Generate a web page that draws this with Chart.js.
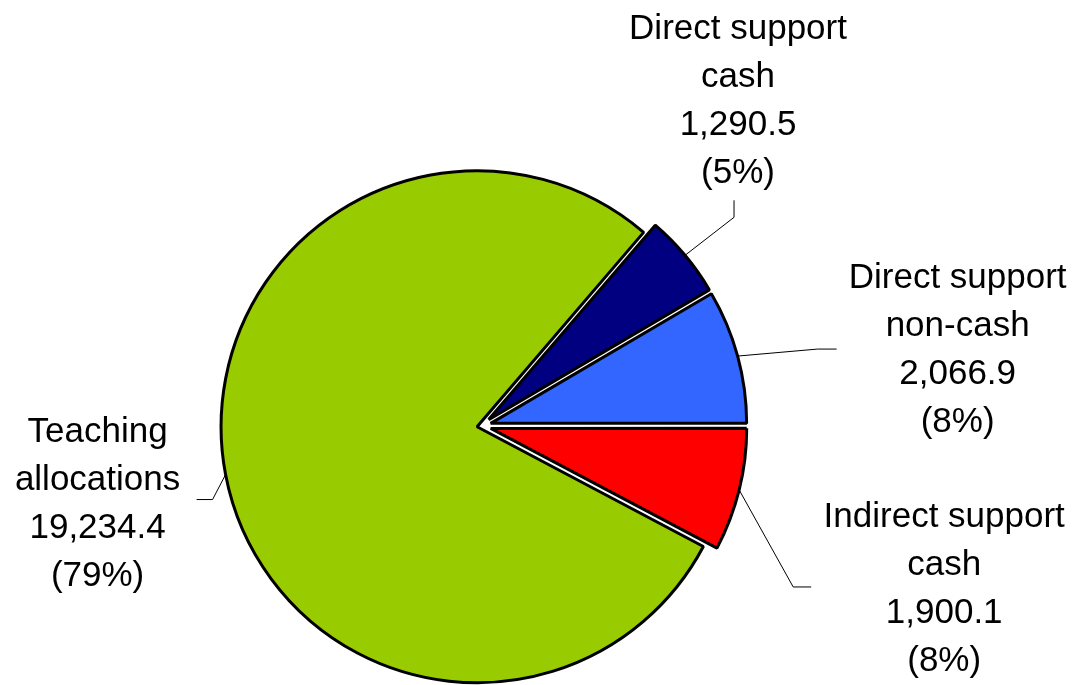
<!DOCTYPE html>
<html>
<head>
<meta charset="utf-8">
<script src="https://cdn.jsdelivr.net/npm/chart.js@4/dist/chart.umd.min.js"></script>
<style>
  body { margin: 0; background: #fff; }
  #wrap { width: 1079px; height: 685px; position: relative; }
</style>
</head>
<body>
<div id="wrap"><canvas id="chart"></canvas></div>
<script>
const categories = ['Direct support cash', 'Direct support non-cash', 'Indirect support cash', 'Teaching allocations'];
const labelLines = [['Direct support', 'cash'], ['Direct support', 'non-cash'], ['Indirect support', 'cash'], ['Teaching', 'allocations']];
const values = [1290.5, 2066.9, 1900.1, 19234.4];
const colors = ['#000080', '#3366FF', '#FF0000', '#99CC00'];
const explode = [10, 10, 10, 4];

// leader line elbow/end and text block centre, relative to the slice's outer mid point
const labelLayout = [
    { elbow: [49, -38], end: [49, -55], text: [53, -154] },
    { elbow: [80, -7], end: [99, -7], text: [220, -6] },
    { elbow: [54, 97], end: [72, 97], text: [205, 99] },
    { elbow: [-13, 25], end: [-29, 25], text: [-128, 30] },
];

function fmt(v) {
    return v.toLocaleString('en-US', { minimumFractionDigits: 1, maximumFractionDigits: 1 });
}

// draws every slice pushed out along its mid angle, without growing its radius
const explodedSlices = {
    id: 'explodedSlices',
    beforeDatasetDraw(chart, args) {
        const ctx = chart.ctx;
        args.meta.data.forEach((arc, i) => {
            const mid = (arc.startAngle + arc.endAngle) / 2;
            ctx.save();
            ctx.translate(Math.cos(mid) * explode[i], Math.sin(mid) * explode[i]);
            arc.draw(ctx, chart.chartArea);
            ctx.restore();
        });
        return false;
    }
};

const leaderLabels = {
    id: 'leaderLabels',
    afterDatasetsDraw(chart) {
        const ctx = chart.ctx;
        const meta = chart.getDatasetMeta(0);
        const total = values.reduce((a, b) => a + b, 0);
        meta.data.forEach((arc, i) => {
            const mid = (arc.startAngle + arc.endAngle) / 2;
            const ex = arc.x + Math.cos(mid) * (arc.outerRadius + explode[i]);
            const ey = arc.y + Math.sin(mid) * (arc.outerRadius + explode[i]);
            const L = labelLayout[i];
            ctx.save();
            ctx.strokeStyle = '#000';
            ctx.lineWidth = 1;
            ctx.beginPath();
            ctx.moveTo(ex, ey);
            ctx.lineTo(ex + L.elbow[0], ey + L.elbow[1]);
            ctx.lineTo(ex + L.end[0], ey + L.end[1]);
            ctx.stroke();

            const lines = [...labelLines[i], fmt(values[i]), '(' + Math.round(values[i] / total * 100) + '%)'];
            ctx.font = '35px "Liberation Sans", Arial, sans-serif';
            ctx.fillStyle = '#000';
            ctx.textAlign = 'center';
            ctx.textBaseline = 'middle';
            const cx = ex + L.text[0];
            const cy = ey + L.text[1];
            lines.forEach((t, k) => {
                ctx.fillText(t, cx, cy + (k - (lines.length - 1) / 2) * 48);
            });
            ctx.restore();
        });
    }
};

document.addEventListener('DOMContentLoaded', function () {
    const ctx = document.getElementById('chart').getContext('2d');
    new Chart(ctx, {
        type: 'pie',
        data: {
            labels: categories,
            datasets: [{
                data: values,
                backgroundColor: colors,
                borderColor: '#000',
                borderWidth: 3,
                clip: false,
            }],
        },
        options: {
            responsive: true,
            maintainAspectRatio: false,
            animation: false,
            events: [],
            rotation: 40.6,
            radius: 256,
            layout: { padding: { left: 0, right: 117, top: 167, bottom: 0 } },
            plugins: {
                legend: { display: false },
                tooltip: { enabled: false },
            },
        },
        plugins: [explodedSlices, leaderLabels],
    });
});
</script>
</body>
</html>
